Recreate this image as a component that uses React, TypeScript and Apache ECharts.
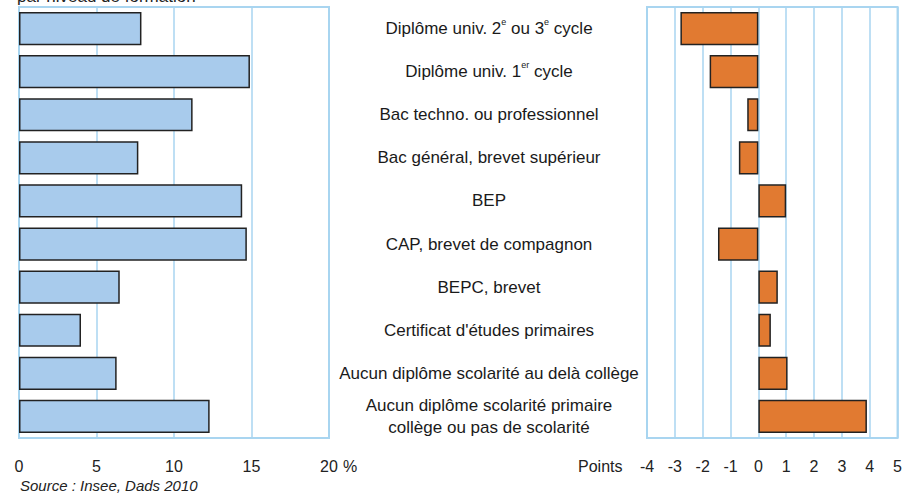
import React, { useEffect, useRef } from "react";
import * as echarts from "echarts";

const categories = [
  "Diplôme univ. 2e ou 3e cycle",
  "Diplôme univ. 1er cycle",
  "Bac techno. ou professionnel",
  "Bac général, brevet supérieur",
  "BEP",
  "CAP, brevet de compagnon",
  "BEPC, brevet",
  "Certificat d'études primaires",
  "Aucun diplôme scolarité au delà collège",
  "Aucun diplôme scolarité primaire\ncollège ou pas de scolarité",
];
const shareValues = [7.9, 14.9, 11.2, 7.7, 14.4, 14.7, 6.5, 4.0, 6.3, 12.3];
const changeValues = [-2.8, -1.75, -0.4, -0.7, 1.0, -1.45, 0.7, 0.45, 1.05, 3.9];

const FONT = "'Liberation Sans', Arial, sans-serif";
const GRID_LINE = "#a9d5f0";

function richLabel(v: string): string {
  if (v === "Diplôme univ. 2e ou 3e cycle") return "Diplôme univ. 2{sup|e} ou 3{sup|e} cycle";
  if (v === "Diplôme univ. 1er cycle") return "Diplôme univ. 1{sup|er} cycle";
  return v;
}

export default function App() {
  const ref = useRef<HTMLDivElement>(null);
  useEffect(() => {
    if (!ref.current) return;
    const chart = echarts.init(ref.current, undefined, { renderer: "svg" });
    chart.setOption({
      animation: false,
      backgroundColor: "#ffffff",
      textStyle: { fontFamily: FONT },
      grid: [
        { left: 19, top: 7, width: 310, height: 431, show: true, borderColor: GRID_LINE, borderWidth: 2, backgroundColor: "transparent" },
        { left: 647, top: 7, width: 256, height: 431, show: true, borderColor: GRID_LINE, borderWidth: 2, backgroundColor: "transparent" },
      ],
      xAxis: [
        {
          type: "value", gridIndex: 0, min: 0, max: 20, interval: 5,
          axisLine: { show: false }, axisTick: { show: false },
          splitLine: { show: true, lineStyle: { color: GRID_LINE, width: 1.5 } },
          axisLabel: { fontSize: 16, color: "#222", margin: 20, fontFamily: FONT, formatter: (v: number) => String(v) },
        },
        {
          type: "value", gridIndex: 1, min: -4, max: 5, interval: 1,
          axisLine: { show: false }, axisTick: { show: false },
          splitLine: { show: true, lineStyle: { color: GRID_LINE, width: 1.5 } },
          axisLabel: { fontSize: 16, color: "#222", margin: 20, fontFamily: FONT },
        },
      ],
      yAxis: [
        {
          type: "category", gridIndex: 0, data: categories, inverse: true, position: "right",
          axisLine: { show: false }, axisTick: { show: false }, splitLine: { show: false },
          axisLabel: {
            align: "center", margin: 160, fontSize: 17, color: "#1a1a1a", lineHeight: 22, fontFamily: FONT,
            formatter: (v: string) => richLabel(v),
            rich: {
              sup: { fontSize: 9, verticalAlign: "top", color: "#1a1a1a", fontFamily: FONT, lineHeight: 13 },
            },
          },
        },
        {
          type: "category", gridIndex: 1, data: categories, inverse: true,
          axisLine: { show: false }, axisTick: { show: false }, splitLine: { show: false },
          axisLabel: { show: false },
        },
      ],
      series: [
        {
          type: "bar", xAxisIndex: 0, yAxisIndex: 0, data: shareValues, barWidth: "77%",
          itemStyle: { color: "#a8cbec", borderColor: "#222", borderWidth: 1.5 },
        },
        {
          type: "bar", xAxisIndex: 1, yAxisIndex: 1, data: changeValues, barWidth: "77%",
          itemStyle: { color: "#e17a31", borderColor: "#222", borderWidth: 1.5 },
        },
      ],
      graphic: [
        { type: "text", left: 17, top: -12, style: { text: "par niveau de formation", fontSize: 17, fill: "#222", fontFamily: FONT } },
        { type: "text", x: 343, y: 466, style: { text: "%", fontSize: 16, fill: "#222", fontFamily: FONT, verticalAlign: "middle" } },
        { type: "text", x: 578, y: 466, style: { text: "Points", fontSize: 16, fill: "#222", fontFamily: FONT, verticalAlign: "middle" } },
        { type: "text", x: 20, y: 485, style: { text: "Source : Insee, Dads 2010", fontSize: 15, fontStyle: "italic", fill: "#222", fontFamily: FONT, verticalAlign: "middle" } },
      ],
    });
    return () => chart.dispose();
  }, []);
  return <div ref={ref} style={{ position: "fixed", left: 0, top: 0, width: 905, height: 496 }} />;
}
